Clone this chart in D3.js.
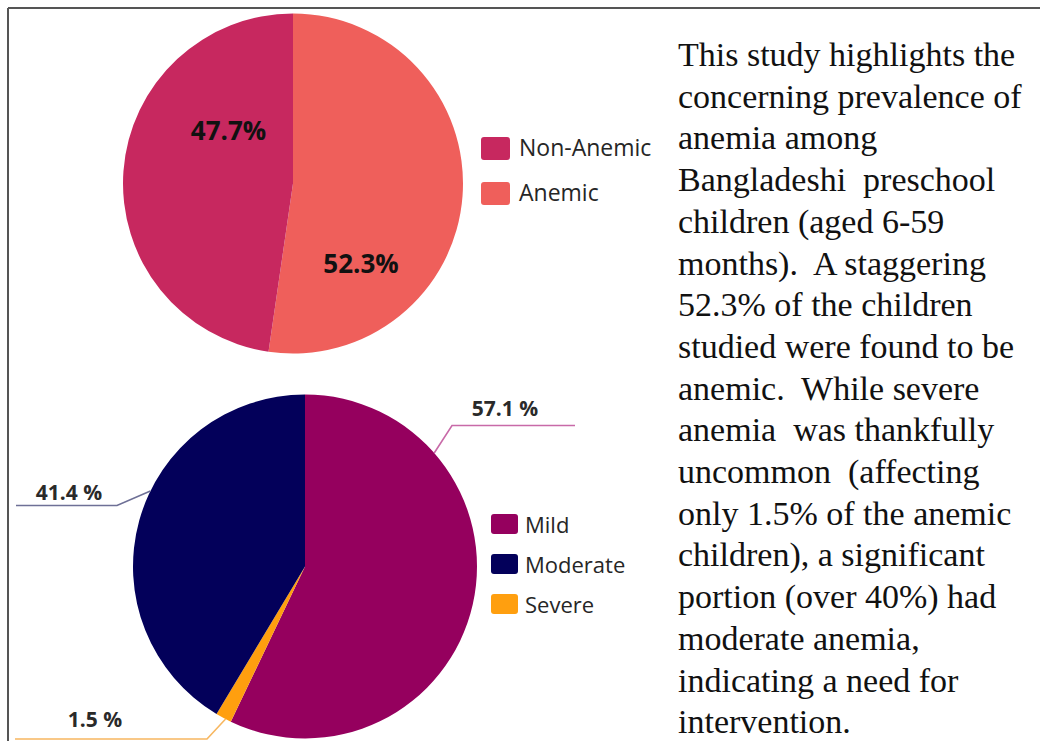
<!DOCTYPE html>
<html>
<head>
<meta charset="utf-8">
<script src="https://cdn.jsdelivr.net/npm/d3@7/dist/d3.min.js"></script>
<style>
  html, body { margin: 0; padding: 0; background: #fff; }
  svg { display: block; }
</style>
</head>
<body>
<svg id="chart" width="1040" height="741"></svg>
<script>
// Anemia status of children (top pie)
const statusLabels = ["Anemic", "Non-Anemic"];
const statusValues = [52.3, 47.7];
const statusColors = ["#EF5F5B", "#C7285F"];
const legendStatus = ["Non-Anemic", "Anemic"];

// Severity among anemic children (bottom pie)
const severityLabels = ["Mild", "Severe", "Moderate"];
const severityValues = [57.1, 1.5, 41.4];
const severityColors = ["#95005E", "#FF9F0F", "#03005A"];
const legendSeverity = ["Mild", "Moderate", "Severe"];

// Side commentary, one entry per line
const noteLines = [
  "This study highlights the",
  "concerning prevalence of",
  "anemia among",
  "Bangladeshi  preschool",
  "children (aged 6-59",
  "months).  A staggering",
  "52.3% of the children",
  "studied were found to be",
  "anemic.  While severe",
  "anemia  was thankfully",
  "uncommon  (affecting",
  "only 1.5% of the anemic",
  "children), a significant",
  "portion (over 40%) had",
  "moderate anemia,",
  "indicating a need for",
  "intervention."
];

const svg = d3.select("#chart");
const sans = "'Open Sans', 'Liberation Sans', sans-serif";

// frame
svg.append("line").attr("x1", 8).attr("y1", 8).attr("x2", 1040).attr("y2", 8)
  .attr("stroke", "#555").attr("stroke-width", 2);
svg.append("line").attr("x1", 8).attr("y1", 8).attr("x2", 8).attr("y2", 741)
  .attr("stroke", "#555").attr("stroke-width", 2);

const pie = d3.pie().sort(null).value(d => d.value);

// ---------- top pie ----------
const topC = { x: 293, y: 183.5, r: 170 };
const topData = statusLabels.map((l, i) => ({ label: l, value: statusValues[i], color: statusColors[i] }));
const topArcs = pie(topData);
const topArc = d3.arc().innerRadius(0).outerRadius(topC.r);
const gTop = svg.append("g").attr("transform", `translate(${topC.x},${topC.y})`);
gTop.selectAll("path").data(topArcs).join("path")
  .attr("d", topArc).attr("fill", d => d.data.color);

// label placement (polar, clockwise from 12 o'clock)
const topLabelPos = { "Anemic": { a: 139.6, r: 105 }, "Non-Anemic": { a: 309, r: 83 } };
gTop.selectAll("text").data(topArcs).join("text")
  .attr("x", d => topLabelPos[d.data.label].r * Math.sin(topLabelPos[d.data.label].a * Math.PI / 180))
  .attr("y", d => -topLabelPos[d.data.label].r * Math.cos(topLabelPos[d.data.label].a * Math.PI / 180))
  .attr("dy", "0.35em")
  .attr("text-anchor", "middle")
  .attr("font-family", sans).attr("font-weight", 700).attr("font-size", 26)
  .attr("fill", "#111")
  .text(d => d.data.value.toFixed(1) + "%");

// top legend
const colorOfStatus = d3.scaleOrdinal().domain(statusLabels).range(statusColors);
const gLegTop = svg.append("g").attr("transform", "translate(481,137)");
const legTopItems = gLegTop.selectAll("g").data(legendStatus).join("g")
  .attr("transform", (d, i) => `translate(0,${i * 45})`);
legTopItems.append("rect").attr("width", 29).attr("height", 23).attr("rx", 3)
  .attr("fill", d => colorOfStatus(d));
legTopItems.append("text").attr("x", 38).attr("y", 19)
  .attr("font-family", sans).attr("font-size", 23).attr("fill", "#262626")
  .text(d => d);

// ---------- bottom pie ----------
const botC = { x: 305, y: 566.5, r: 172 };
const botData = severityLabels.map((l, i) => ({ label: l, value: severityValues[i], color: severityColors[i] }));
const botArcs = pie(botData);
const botArc = d3.arc().innerRadius(0).outerRadius(botC.r);
const gBot = svg.append("g").attr("transform", `translate(${botC.x},${botC.y})`);
gBot.selectAll("path").data(botArcs).join("path")
  .attr("d", botArc).attr("fill", d => d.data.color);

// leader lines: start on the rim, elbow, then horizontal run
const leaders = {
  "Mild":     { a: 48.7,  elbow: [147, -141], end: [270, -141], text: [200, -151], stroke: "#C86AA8" },
  "Moderate": { a: 296,   elbow: [-188, -61], end: [-289, -61], text: [-236, -67], stroke: "#6E7096" },
  "Severe":   { a: 207.5, elbow: [-98, 172.5], end: [-290, 172.5], text: [-210, 160], stroke: "#F7B760" }
};
const toXY = (a, r) => [r * Math.sin(a * Math.PI / 180), -r * Math.cos(a * Math.PI / 180)];
botArcs.forEach(d => {
  const L = leaders[d.data.label];
  const p0 = toXY(L.a, botC.r);
  gBot.append("path")
    .attr("d", d3.line()([p0, L.elbow, L.end]))
    .attr("fill", "none").attr("stroke", L.stroke).attr("stroke-width", 1.6);
  gBot.append("text")
    .attr("x", L.text[0]).attr("y", L.text[1])
    .attr("text-anchor", "middle")
    .attr("font-family", sans).attr("font-weight", 700).attr("font-size", 21)
    .attr("fill", "#2a2a2a")
    .text(d.data.value.toFixed(1) + " %");
});

// bottom legend
const colorOfSeverity = d3.scaleOrdinal().domain(severityLabels).range(severityColors);
const gLegBot = svg.append("g").attr("transform", "translate(491,514)");
const legBotItems = gLegBot.selectAll("g").data(legendSeverity).join("g")
  .attr("transform", (d, i) => `translate(0,${i * 40})`);
legBotItems.append("rect").attr("width", 27).attr("height", 20).attr("rx", 3)
  .attr("fill", d => colorOfSeverity(d));
legBotItems.append("text").attr("x", 34).attr("y", 18.5)
  .attr("font-family", sans).attr("font-size", 22).attr("fill", "#262626")
  .text(d => d);

// ---------- commentary ----------
svg.append("g").selectAll("text").data(noteLines).join("text")
  .attr("x", 678)
  .attr("y", (d, i) => 66 + i * 41.7)
  .attr("xml:space", "preserve")
  .style("white-space", "pre")
  .attr("font-family", "'Liberation Serif', 'Times New Roman', serif")
  .attr("font-size", 34)
  .attr("fill", "#111")
  .text(d => d);
</script>
</body>
</html>
